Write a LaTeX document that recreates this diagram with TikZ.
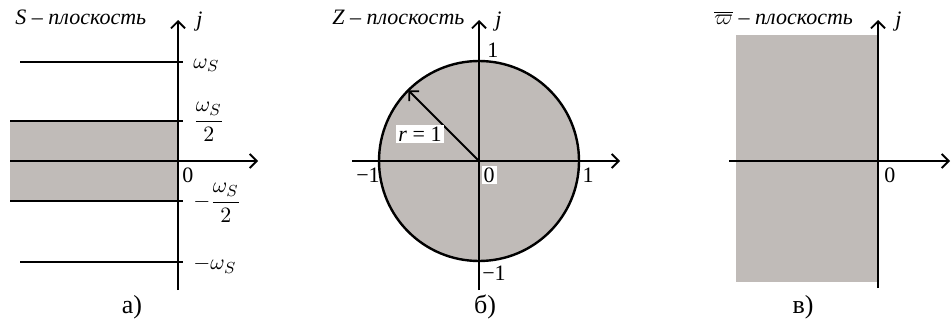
\documentclass[tikz,border=0pt]{standalone}
\usepackage{amsmath}
\usepackage{fontspec}
\setmainfont{Liberation Serif}
\usetikzlibrary{arrows.meta}
\definecolor{planegray}{RGB}{192,187,184}
\tikzset{
  axis/.style={line width=0.9pt,-{Straight Barb[length=3.5pt,width=7pt]}},
  lvl/.style={line width=0.7pt},
  lbl/.style={inner sep=1pt,font=\fontsize{11}{13}\selectfont},
  ttl/.style={lbl,anchor=base west,font=\fontsize{11}{13}\selectfont\itshape},
  sublbl/.style={inner sep=1pt,font=\fontsize{13}{15}\selectfont},
}
\begin{document}
\begin{tikzpicture}[x=0.5pt,y=-0.5pt]
  \useasboundingbox (0,0) rectangle (951,321);
  % pixel grid of the sheet, y runs downwards
  \def\xA{178}\def\xB{479}\def\xC{878}\def\yO{161}

  % a) S-plane: strip between -ws/2 and ws/2
  \fill[planegray](10,121)rectangle(\xA,201);
  \draw[axis](10,\yO)--(258,\yO);
  \draw[axis](\xA,290)--(\xA,20);
  \foreach \yv/\xs in {62/20,121/10,201/10,262/20}
    \draw[lvl](\xs,\yv)--(183,\yv);
  \node[ttl] (sTitle) at(13,25){S – плоскость};
  \node[ttl] (sJ) at(194,26){j};
  \node[lbl,anchor=west] (sWs) at(191,65){$\omega_S$};
  \node[lbl,anchor=west] (sHalf) at(191,122){$\dfrac{\omega_S}{2}$};
  \node[lbl,anchor=west] (sZero) at(180,175){0};
  \node[lbl,anchor=west] (sMHalf) at(191,203){$-\dfrac{\omega_S}{2}$};
  \node[lbl,anchor=west] (sMWs) at(191,265){$-\omega_S$};
  \node[sublbl] (capA) at(132,307){а)};

  % b) Z-plane: unit circle
  \fill[planegray,draw=black,line width=1.2pt](\xB,\yO)circle(100);
  \draw[axis](352,\yO)--(620,\yO);
  \draw[axis](\xB,290)--(\xB,20);
  \coordinate (zc) at(\xB,\yO);
  \coordinate (rim) at(408.3,90.3);
  \draw[axis](zc)--(rim);
  \node[ttl] (zTitle) at(330,25){Z – плоскость};
  \node[ttl] (zJ) at(493,26){j};
  \node[lbl,anchor=west] (zTop) at(485,50){1};
  \node[lbl,fill=white] (zR) at(420,134){\textit{r} = 1};
  \node[lbl,fill=white] (zZero) at(489,175){0};
  \node[lbl] (zLeft) at(368,175){−1};
  \node[lbl] (zRight) at(588,175){1};
  \node[lbl] (zBot) at(494,273){−1};
  \node[sublbl] (capB) at(485,307){б)};

  % c) w-plane: left half-plane
  \fill[planegray](736,35)rectangle(\xC,282);
  \draw[axis](729,\yO)--(950,\yO);
  \draw[axis](\xC,288)--(\xC,20);
  \node[ttl] (wTitle) at(712,25){$\overline{\varpi}$ – плоскость};
  \node[ttl] (wJ) at(893,26){j};
  \node[lbl,anchor=west] (wZero) at(882,175){0};
  \node[sublbl] (capC) at(803,307){в)};
\end{tikzpicture}
\end{document}
